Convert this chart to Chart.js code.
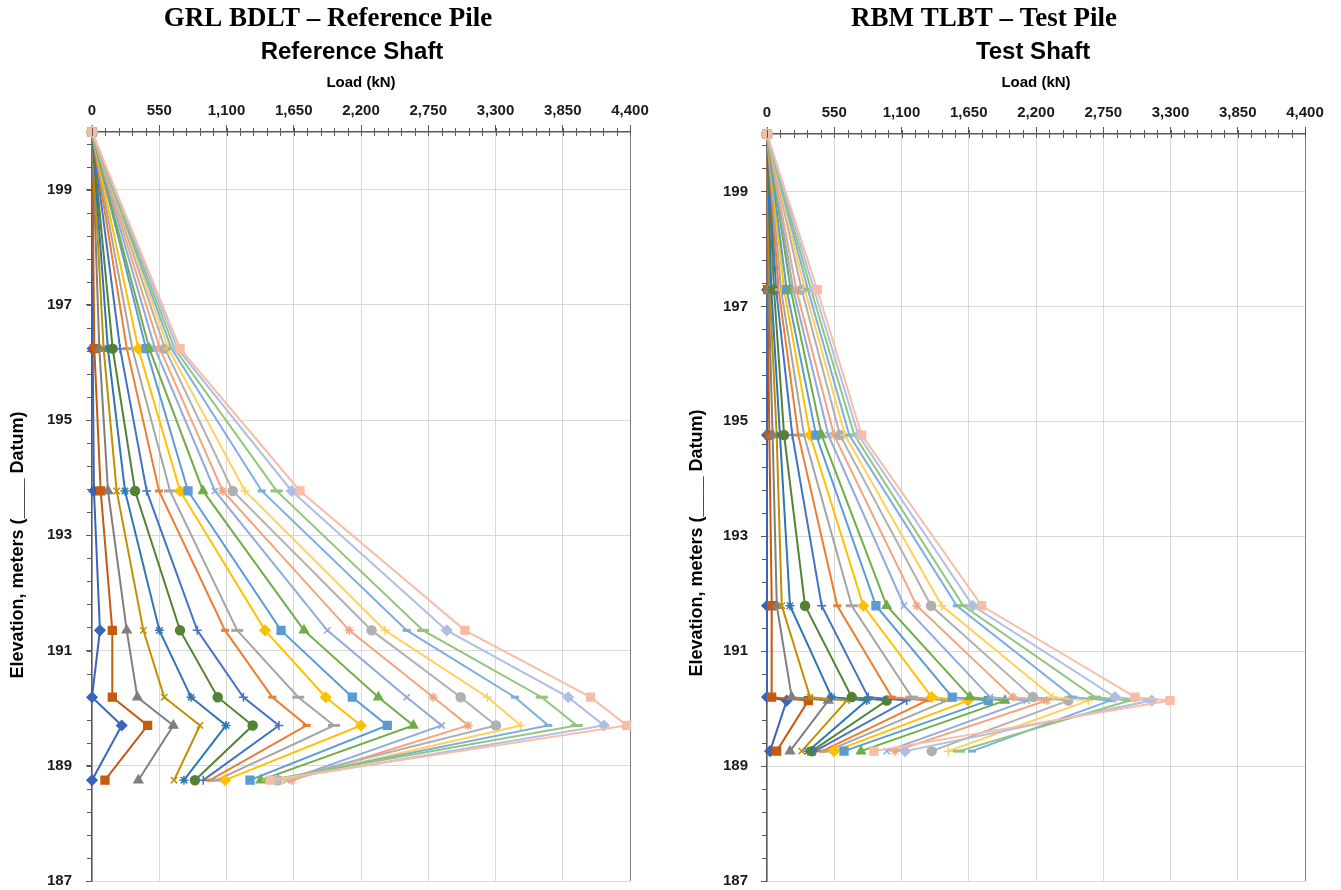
<!DOCTYPE html>
<html>
<head>
<meta charset="utf-8">
<title>Shaft load distribution</title>
<script src="https://cdn.jsdelivr.net/npm/chart.js@4.4.1/dist/chart.umd.min.js"></script>
<style>
  body { margin: 0; background: #fff; }
  #wrap { position: relative; width: 1341px; height: 890px; }
  canvas { position: absolute; top: 0; }
  #refCanvas { left: 0; }
  #testCanvas { left: 670px; }
</style>
</head>
<body>
<div id="wrap">
  <canvas id="refCanvas" width="670" height="890"></canvas>
  <canvas id="testCanvas" width="671" height="890"></canvas>
</div>
<script>
// gauge elevations (m), top of shaft first
const refElev = [200, 196.24, 193.77, 191.35, 190.19, 189.70, 188.75]
const testElev = [200, 197.29, 194.76, 191.79, 190.20, 190.14, 189.26]

// axis ticks
const xTicks = [0, 550, 1100, 1650, 2200, 2750, 3300, 3850, 4400]
const yTicks = [187, 189, 191, 193, 195, 197, 199]

// reference pile, load (kN) at each gauge, one array per load step
const ref01 = [0, 5, 16, 65, 0, 243, 0]
const ref02 = [0, 19, 71, 166, 166, 455, 106]
const ref03 = [0, 60, 131, 284, 371, 665, 379]
const ref04 = [0, 95, 202, 420, 591, 883, 671]
const ref05 = [0, 130, 270, 551, 810, 1096, 752]
const ref06 = [0, 169, 352, 720, 1028, 1314, 842]
const ref07 = [0, 230, 447, 861, 1238, 1529, 910]
const ref08 = [0, 285, 548, 1088, 1475, 1756, 965]
const ref09 = [0, 330, 638, 1188, 1687, 1979, 1020]
const ref10 = [0, 379, 720, 1415, 1911, 2200, 1088]
const ref11 = [0, 442, 785, 1546, 2129, 2415, 1292]
const ref12 = [0, 469, 908, 1734, 2342, 2628, 1380]
const ref13 = [0, 515, 1006, 1924, 2574, 2860, 1592]
const ref14 = [0, 555, 1069, 2104, 2791, 3077, 1633]
const ref15 = [0, 597, 1151, 2287, 3015, 3304, 1521]
const ref16 = [0, 625, 1251, 2396, 3233, 3508, 1554]
const ref17 = [0, 650, 1388, 2574, 3459, 3732, 1488]
const ref18 = [0, 675, 1510, 2707, 3678, 3964, 1439]
const ref19 = [0, 700, 1633, 2901, 3895, 4187, 1505]
const ref20 = [0, 720, 1701, 3050, 4078, 4373, 1456]

// test pile
const test01 = [0, 0, 0, 0, 0, 161, 25]
const test02 = [0, 5, 19, 39, 38, 338, 79]
const test03 = [0, 12, 46, 80, 202, 501, 188]
const test04 = [0, 22, 79, 121, 352, 652, 284]
const test05 = [0, 35, 106, 188, 529, 815, 335]
const test06 = [0, 57, 140, 311, 693, 979, 366]
const test07 = [0, 75, 207, 447, 828, 1142, 393]
const test08 = [0, 95, 256, 575, 1020, 1308, 450]
const test09 = [0, 115, 303, 693, 1183, 1472, 491]
const test10 = [0, 140, 352, 788, 1347, 1644, 548]
const test11 = [0, 161, 401, 891, 1515, 1810, 630]
const test12 = [0, 194, 447, 979, 1660, 1946, 769]
const test13 = [0, 215, 502, 1121, 1824, 2124, 979]
const test14 = [0, 240, 548, 1225, 2012, 2287, 1047]
const test15 = [0, 284, 597, 1342, 2175, 2464, 1347]
const test16 = [0, 310, 638, 1430, 2339, 2628, 1483]
const test17 = [0, 335, 673, 1552, 2502, 2805, 1677]
const test18 = [0, 360, 714, 1606, 2682, 2969, 1570]
const test19 = [0, 385, 747, 1683, 2846, 3146, 1129]
const test20 = [0, 411, 774, 1756, 3010, 3296, 875]

const refSeries = [ref01, ref02, ref03, ref04, ref05, ref06, ref07, ref08, ref09, ref10,
                   ref11, ref12, ref13, ref14, ref15, ref16, ref17, ref18, ref19, ref20]
const testSeries = [test01, test02, test03, test04, test05, test06, test07, test08, test09, test10,
                    test11, test12, test13, test14, test15, test16, test17, test18, test19, test20]

// excel-ish series styling
const colors = ['#3A64B8', '#C55A11', '#7F7F7F', '#BF9000', '#2E75B6', '#548235', '#4472C4', '#ED7D31', '#A5A5A5', '#FFC000',
                '#5B9BD5', '#70AD47', '#8FAADC', '#F4A47C', '#B0B0B0', '#FFD05A', '#7DAEE0', '#92C47A', '#AFBFE3', '#F6BDA7']
const markers = ['rectRot', 'rect', 'triangle', 'crossRot', 'star', 'circle', 'cross', 'line', 'line', 'rectRot',
                 'rect', 'triangle', 'crossRot', 'star', 'circle', 'cross', 'line', 'line', 'rectRot', 'rect']
const radii = [5, 5.5, 5, 4.5, 4.5, 4.5, 4.5, 4, 6, 5, 5.5, 5, 4.5, 4.5, 4.5, 4.5, 4, 6, 5, 5.5]

Chart.defaults.font.family = "'Liberation Sans', Arial, sans-serif"

// minor ticks + headings, excel draws these itself
const decor = {
    id: 'decor',
    afterDraw(chart, args, opts) {
        const ctx = chart.ctx
        const a = chart.chartArea
        const xs = chart.scales.x
        const ys = chart.scales.y
        ctx.save()
        ctx.strokeStyle = '#595959'
        ctx.lineWidth = 1
        ctx.beginPath()
        for (let k = 0; k <= 40; k++) {
            const px = Math.round(xs.getPixelForValue(k * 110)) + 0.5
            ctx.moveTo(px, a.top - 4)
            ctx.lineTo(px, a.top + 4)
        }
        for (let k = 0; k <= 32; k++) {
            const py = Math.round(ys.getPixelForValue(187 + k * 0.4)) + 0.5
            ctx.moveTo(a.left - 5, py)
            ctx.lineTo(a.left, py)
        }
        ctx.stroke()

        ctx.fillStyle = '#000'
        ctx.textAlign = 'center'
        ctx.textBaseline = 'middle'
        ctx.font = "bold 27px 'Liberation Serif', 'Times New Roman', serif"
        ctx.fillText(opts.title[0], opts.title[1], opts.title[2])
        ctx.font = "bold 24px 'Liberation Sans', Arial, sans-serif"
        ctx.fillText(opts.sub[0], opts.sub[1], opts.sub[2])
        ctx.font = "bold 15px 'Liberation Sans', Arial, sans-serif"
        ctx.fillText(opts.xTitle[0], opts.xTitle[1], opts.xTitle[2])
        ctx.translate(opts.yTitle[1], opts.yTitle[2])
        ctx.rotate(-Math.PI / 2)
        ctx.font = "bold 18px 'Liberation Sans', Arial, sans-serif"
        ctx.fillText(opts.yTitle[0], 0, 0)
        ctx.restore()
    }
}

// pin the plot area where excel had it, ignore label overflow
function pin(s, w, h) {
    if (w) s.width = w
    if (h) s.height = h
    s.paddingTop = 0
    s.paddingBottom = 0
    s.paddingLeft = 0
    s.paddingRight = 0
}

function buildChart(id, elev, series, lay, heads) {
    const datasets = series.map((loads, i) => ({
        label: 'Step ' + (i + 1),
        data: loads.map((v, k) => ({ x: v, y: elev[k] })),
        showLine: true,
        borderColor: colors[i],
        backgroundColor: colors[i],
        borderWidth: 2,
        pointStyle: markers[i],
        pointRadius: radii[i],
        pointBorderWidth: markers[i] === 'line' ? 3 : 1.5,
        order: series.length - i,
        clip: false
    }))

    return new Chart(document.getElementById(id), {
        type: 'scatter',
        data: { datasets: datasets },
        plugins: [decor],
        options: {
            responsive: false,
            animation: false,
            layout: { padding: { left: 0, top: 0, right: lay.right, bottom: 7 } },
            scales: {
                x: {
                    type: 'linear',
                    position: 'top',
                    min: 0,
                    max: 4400,
                    afterBuildTicks: s => { s.ticks = xTicks.map(v => ({ value: v })) },
                    afterFit: s => pin(s, 0, lay.top),
                    ticks: {
                        font: { size: 15, weight: 'bold' },
                        color: '#1a1a1a',
                        padding: 5,
                        maxRotation: 0,
                        autoSkip: false,
                        callback: v => v.toLocaleString('en-US')
                    },
                    grid: {
                        color: c => (c.tick && c.tick.value === 4400) ? '#7f7f7f' : '#d9d9d9',
                        tickColor: '#595959',
                        tickLength: 7
                    },
                    border: { color: '#595959', width: 1.5 }
                },
                y: {
                    type: 'linear',
                    min: 187,
                    max: 200,
                    afterBuildTicks: s => { s.ticks = yTicks.map(v => ({ value: v })) },
                    afterFit: s => pin(s, lay.left, 0),
                    ticks: {
                        font: { size: 15, weight: 'bold' },
                        color: '#1a1a1a',
                        padding: lay.yPad
                    },
                    grid: { color: '#d9d9d9', tickColor: '#595959', tickLength: 6 },
                    border: { color: '#595959', width: 1.5 }
                }
            },
            plugins: {
                legend: { display: false },
                tooltip: { enabled: false },
                decor: heads
            }
        }
    })
}

buildChart('refCanvas', refElev, refSeries,
    { left: 92, top: 132, right: 40, yPad: 14 },
    {
        title: ['GRL BDLT \u2013 Reference Pile', 328, 19],
        sub: ['Reference Shaft', 352, 52],
        xTitle: ['Load (kN)', 361, 83],
        yTitle: ['Elevation, meters (____ Datum)', 18, 545]
    })

buildChart('testCanvas', testElev, testSeries,
    { left: 97, top: 134, right: 36, yPad: 13 },
    {
        title: ['RBM TLBT \u2013 Test Pile', 314, 19],
        sub: ['Test Shaft', 363, 52],
        xTitle: ['Load (kN)', 366, 83],
        yTitle: ['Elevation, meters (____ Datum)', 27, 543]
    })
</script>
</body>
</html>
